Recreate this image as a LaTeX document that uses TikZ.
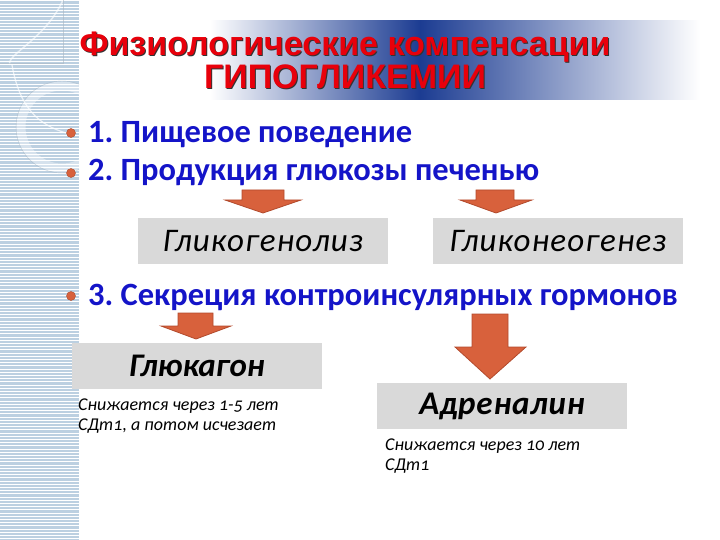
\documentclass[tikz,border=0pt]{standalone}
\usepackage{fontspec}
\setmainfont{Carlito}
\newfontfamily\titlefont{Liberation Sans}
\frenchspacing
\definecolor{pointblue}{HTML}{1414C8}
\definecolor{titlered}{HTML}{E8000B}
\definecolor{arrowred}{HTML}{D8613C}
\definecolor{arrowedge}{HTML}{B24A2C}
\definecolor{boxgrey}{HTML}{D9D9D9}
\definecolor{stripblue}{HTML}{BCD0E1}
\definecolor{barblue}{HTML}{1C3C92}

\begin{document}
\begin{tikzpicture}[x=1pt,y=-1pt,
  point/.style={text=pointblue,font=\bfseries\fontsize{32.5}{34}\selectfont,anchor=base west,inner sep=0pt},
  dot/.style={fill=arrowred,draw=arrowred!80!black,line width=0.4pt},
  grbox/.style={fill=boxgrey,minimum width=250pt,minimum height=46pt,inner sep=0pt,
    font=\itshape\fontsize{33}{34}\selectfont\addfontfeatures{LetterSpace=3.5}},
  hormone/.style={grbox,font=\bfseries\itshape\fontsize{33}{34}\selectfont},
  note/.style={anchor=base west,inner sep=0pt,align=left,
    font=\itshape\fontsize{18}{20}\selectfont\addfontfeatures{Numbers=OldStyle}},
  blockarrow/.style={fill=arrowred,draw=arrowedge,line width=0.8pt},
  heading/.style={font=\titlefont\bfseries\fontsize{34}{36}\selectfont,anchor=base,inner sep=0pt}]
  \useasboundingbox (0,0) rectangle (720,540);

  % left strip
  \fill[stripblue] (0,0) rectangle (79,540);
  \foreach \y in {1,4.2,...,540}
    \draw[white,line width=1pt] (0,\y) -- (79,\y);
  \begin{scope}
    \clip (0,0) rectangle (79,540);
    \draw[white,opacity=0.4,line width=9pt] (62,127) circle (41);
    \draw[stripblue!70!gray,opacity=0.6] (62,127) circle (46);
    \draw[white,opacity=0.6,line width=1.5pt] (63,0) .. controls (45,40) and (5,55) .. (10,65);
    \draw[stripblue!70!gray,opacity=0.6] (0,63) -- (63,63) -- (63,0);
    \draw[white,opacity=0.7,line width=1.2pt] (12,65) .. controls (20,110) and (40,125) .. (66,133);
  \end{scope}

  % title bar
  \shade[left color=white,right color=barblue] (210,21) rectangle (420,100);
  \shade[left color=barblue,right color=white] (420,21) rectangle (700,100);
  \node[heading,text=black!80] (t1s) at (346,56.5) {Физиологические компенсации};
  \node[heading,text=titlered] (t1) at (345,55.5) {Физиологические компенсации};
  \node[heading,text=black!80] (t2s) at (346,90) {ГИПОГЛИКЕМИИ};
  \node[heading,text=titlered] (t2) at (345,89) {ГИПОГЛИКЕМИИ};

  % bullets
  \fill[dot] (71,133) circle (4.5);
  \fill[dot] (71,173) circle (4.5);
  \fill[dot] (71,296) circle (4.5);
  \node[point] (p1) at (88,143) {1. Пищевое поведение};
  \node[point] (p2) at (88,181) {2. Продукция глюкозы печенью};
  \node[point] (p3) at (88,305) {3. Секреция контроинсулярных гормонов};

  % arrows
  \filldraw[blockarrow] (242,190) -- (284,190) -- (284,200) -- (301,200) -- (263,213)
    -- (225,200) -- (242,200) -- cycle;
  \filldraw[blockarrow] (476,190) -- (514,190) -- (514,200) -- (532,200) -- (496,213)
    -- (460,200) -- (476,200) -- cycle;
  \filldraw[blockarrow] (178,313) -- (213,313) -- (213,326) -- (231,326) -- (196,339)
    -- (161,326) -- (178,326) -- cycle;
  \filldraw[blockarrow] (472,314) -- (508,314) -- (508,347) -- (526,347) -- (490,379)
    -- (455,347) -- (472,347) -- cycle;

  % boxes
  \node[grbox] (glykogen) at (263,241) {Гликогенолиз};
  \node[grbox] (neogen) at (558,241) {Гликонеогенез};
  \node[hormone] (glukagon) at (197,366) {Глюкагон};
  \node[hormone,font=\bfseries\itshape\fontsize{33}{34}\selectfont\addfontfeatures{LetterSpace=2.5}]
    (adrenalin) at (502,406) {Адреналин};

  % notes
  \node[note] (n1) at (78,430) {Снижается через 1-5 лет\\СДт1, а потом исчезает};
  \node[note] (n2) at (385,470) {Снижается через 10 лет\\СДт1};
\end{tikzpicture}
\end{document}
